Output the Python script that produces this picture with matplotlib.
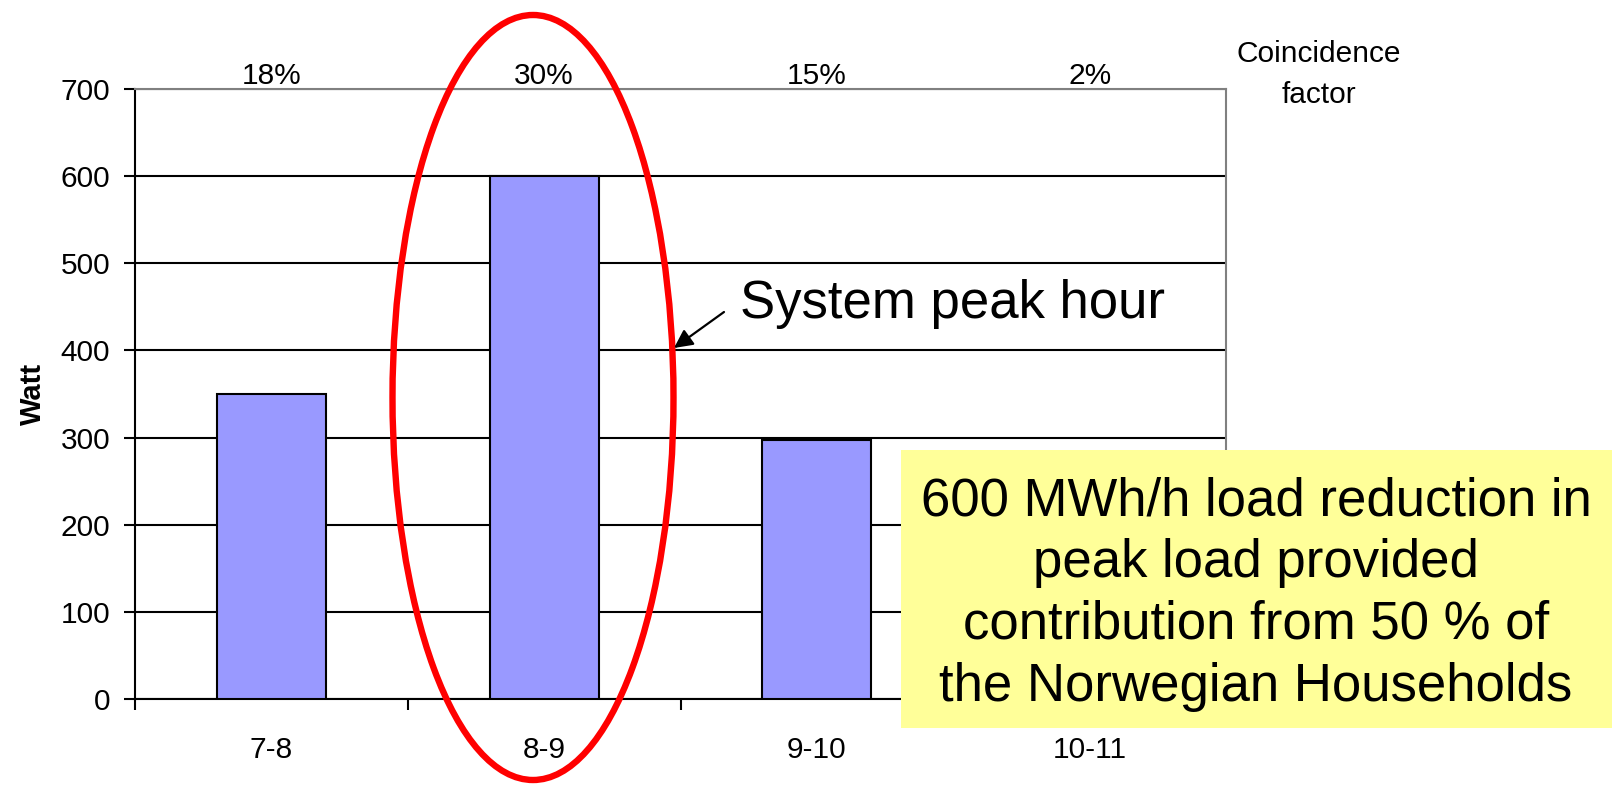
import matplotlib
matplotlib.use("Agg")
import matplotlib.pyplot as plt
from matplotlib.patches import Ellipse, Rectangle

plt.rcParams['font.family'] = ['Liberation Sans', 'DejaVu Sans']

# Hourly household load in the morning and the coincidence factor per hour
hours = ['7-8', '8-9', '9-10', '10-11']
load_watt = [350, 600, 297, 40]
coincidence = ['18%', '30%', '15%', '2%']
y_ticks = [0, 100, 200, 300, 400, 500, 600, 700]

W, H = 1612, 785
fig = plt.figure(figsize=(W / 100, H / 100), dpi=100)
fig.patch.set_facecolor('white')

# Plot area in pixel terms
left, right, top, bottom = 135, 1226, 89, 699
ax = fig.add_axes([left / W, 1 - bottom / H, (right - left) / W, (bottom - top) / H])

x = list(range(len(hours)))
ax.bar(x, load_watt, width=0.4, color='#9999FF', edgecolor='black', linewidth=1.5, zorder=3)

ax.set_xlim(-0.5, len(hours) - 0.5)
ax.set_ylim(0, 700)
ax.set_yticks(y_ticks)
ax.yaxis.grid(True, color='black', linewidth=1.5, zorder=1)
ax.set_axisbelow(True)

# Category boundaries carry the ticks, labels sit at category centres
ax.set_xticks([i - 0.5 for i in range(len(hours) + 1)])
ax.set_xticklabels([])
ax.set_xticks(x, minor=True)
ax.set_xticklabels(hours, minor=True)
ax.tick_params(axis='x', which='major', length=8, width=1.5, direction='out')
ax.tick_params(axis='x', which='minor', length=0, pad=27, labelsize=21.5)
ax.tick_params(axis='y', length=8, width=1.5, direction='out', pad=10, labelsize=21.5)

for s in ('left', 'bottom'):
    ax.spines[s].set_color('black')
    ax.spines[s].set_linewidth(1.5)
for s in ('top', 'right'):
    ax.spines[s].set_color('#808080')
    ax.spines[s].set_linewidth(1.5)

ax.set_ylabel('Watt', fontsize=21, fontweight='bold')
ax.yaxis.set_label_coords(-(left - 47) / (right - left), 0.5)

# Coincidence factor above each hour
for xi, pct in zip(x, coincidence):
    ax.annotate(pct, xy=(xi, 1), xycoords=('data', 'axes fraction'),
                xytext=(0, 5), textcoords='offset pixels',
                ha='center', va='baseline', fontsize=21.5)

# Overlay in pixel coordinates for the callouts
ov = fig.add_axes([0, 0, 1, 1], zorder=5)
ov.set_xlim(0, W)
ov.set_ylim(H, 0)
ov.set_axis_off()

ov.text(1319, 54, 'Coincidence', ha='center', va='center', fontsize=21.5)
ov.text(1319, 95, 'factor', ha='center', va='center', fontsize=21.5)

ov.add_patch(Ellipse((533, 397.5), 281, 765, fill=False,
                     edgecolor='#FF0000', linewidth=4.6, zorder=6))

ov.annotate('', xy=(674, 348), xytext=(724, 312),
            arrowprops=dict(arrowstyle='-|>', color='black', lw=1.6,
                            mutation_scale=28, shrinkA=0, shrinkB=0), zorder=7)
ov.text(740, 318, 'System peak hour', ha='left', va='baseline', fontsize=38)

ov.add_patch(Rectangle((901, 450), W - 901 + 5, 728 - 450,
                       facecolor='#FFFF99', edgecolor='none', zorder=6))
ov.text(1256, 594,
        '600 MWh/h load reduction in\npeak load provided\ncontribution from 50 % of\nthe Norwegian Households',
        ha='center', va='center', fontsize=38, linespacing=1.30, zorder=7)

fig.savefig('out.png', dpi=100)
